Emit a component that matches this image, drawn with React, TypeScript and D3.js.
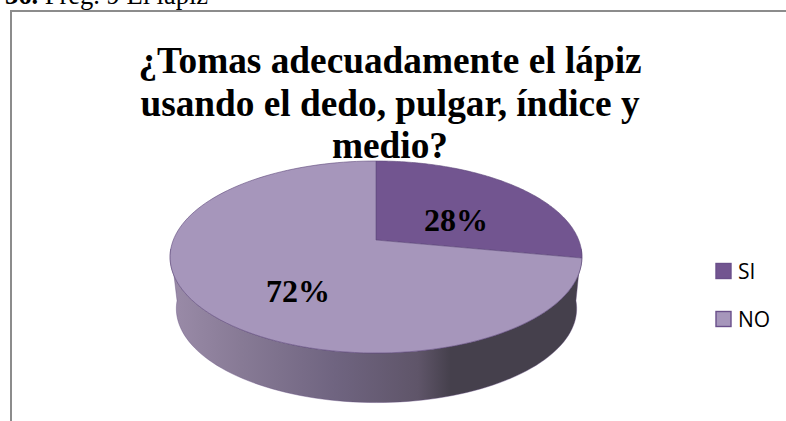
import React from "react";
import * as d3 from "d3";

const categories = ["SI", "NO"];
const values = [28, 72];
const colors = ["#725590", "#a696bb"];
const titleLines = ["¿Tomas adecuadamente el lápiz", "usando el dedo, pulgar, índice y", "medio?"];
const caption = ["36.", " Preg. 9 El lápiz"];

const W = 786, H = 421;
const k = 0.177;
const project = (cx: number, cy: number, A: number, B: number) => (a: number): [number, number] => {
  const v = -Math.cos(a);
  const d = 1 - k * v;
  return [cx + (A * Math.sin(a)) / d, cy + (B * v) / d];
};
const top = project(376, 240, 202.7, 93);
const bottom = project(376.5, 292, 197, 91);

const pie = d3.pie<number>().sort(null)(values);
const line = d3.line();
const sample = (a0: number, a1: number, n = 90) => d3.range(n + 1).map((i) => a0 + ((a1 - a0) * i) / n);

export default function App() {
  const leftA = Math.PI * 1.47, rightA = Math.PI * 0.53;
  const frontTop = sample(rightA, leftA).map(top);
  const frontBot = sample(leftA, rightA).map(bottom);
  const side = line([...frontTop, ...frontBot])! + "Z";
  return (
    <svg width={W} height={H} style={{ position: "absolute", left: 0, top: 0, background: "#fff" }}>
      <defs>
        <linearGradient id="sideG" gradientUnits="userSpaceOnUse" x1={172} x2={582} y1={0} y2={0}>
          <stop offset="0" stopColor="#9a8ba8" />
          <stop offset="0.17" stopColor="#877a95" />
          <stop offset="0.4" stopColor="#6f6480" />
          <stop offset="0.6" stopColor="#5f5569" />
          <stop offset="0.68" stopColor="#45404c" />
          <stop offset="1" stopColor="#45404c" />
        </linearGradient>
      </defs>
      <text x={5} y={4} fontFamily="Liberation Serif" fontSize={26.5} fill="#000">
        <tspan fontWeight="bold">{caption[0]}</tspan>
        <tspan>{caption[1]}</tspan>
      </text>
      <path d={`M11 ${H}V11H${W}`} fill="none" stroke="#8c8c8c" strokeWidth={2} />
      {titleLines.map((t, i) => (
        <text key={t} x={390} y={73 + i * 42.5} textAnchor="middle" fontFamily="Liberation Serif" fontWeight="bold" fontSize={37.3} fill="#000">{t}</text>
      ))}
      <path d={side} fill="url(#sideG)" stroke="#5f4a7c" strokeWidth={0.4} />
      {pie.map((s, i) => {
        const pts = sample(s.startAngle, s.endAngle, 120).map(top);
        return <path key={categories[i]} d={line([[376, 240], ...pts])! + "Z"} fill={colors[i]} stroke="#5f4a7c" strokeWidth={0.6} />;
      })}
      <text x={456} y={231} textAnchor="middle" fontFamily="Liberation Serif" fontWeight="bold" fontSize={32} fill="#000">28%</text>
      <text x={298} y={302} textAnchor="middle" fontFamily="Liberation Serif" fontWeight="bold" fontSize={32} fill="#000">72%</text>
      {categories.map((c, i) => (
        <g key={c} transform={`translate(716,${271 + i * 48})`}>
          <rect x={0} y={-7.5} width={15} height={15} fill={colors[i]} stroke="#6a4f8a" strokeWidth={1.4} />
          <text x={22} y={7.5} fontFamily="Open Sans" fontSize={21} fill="#000">{c}</text>
        </g>
      ))}
    </svg>
  );
}
